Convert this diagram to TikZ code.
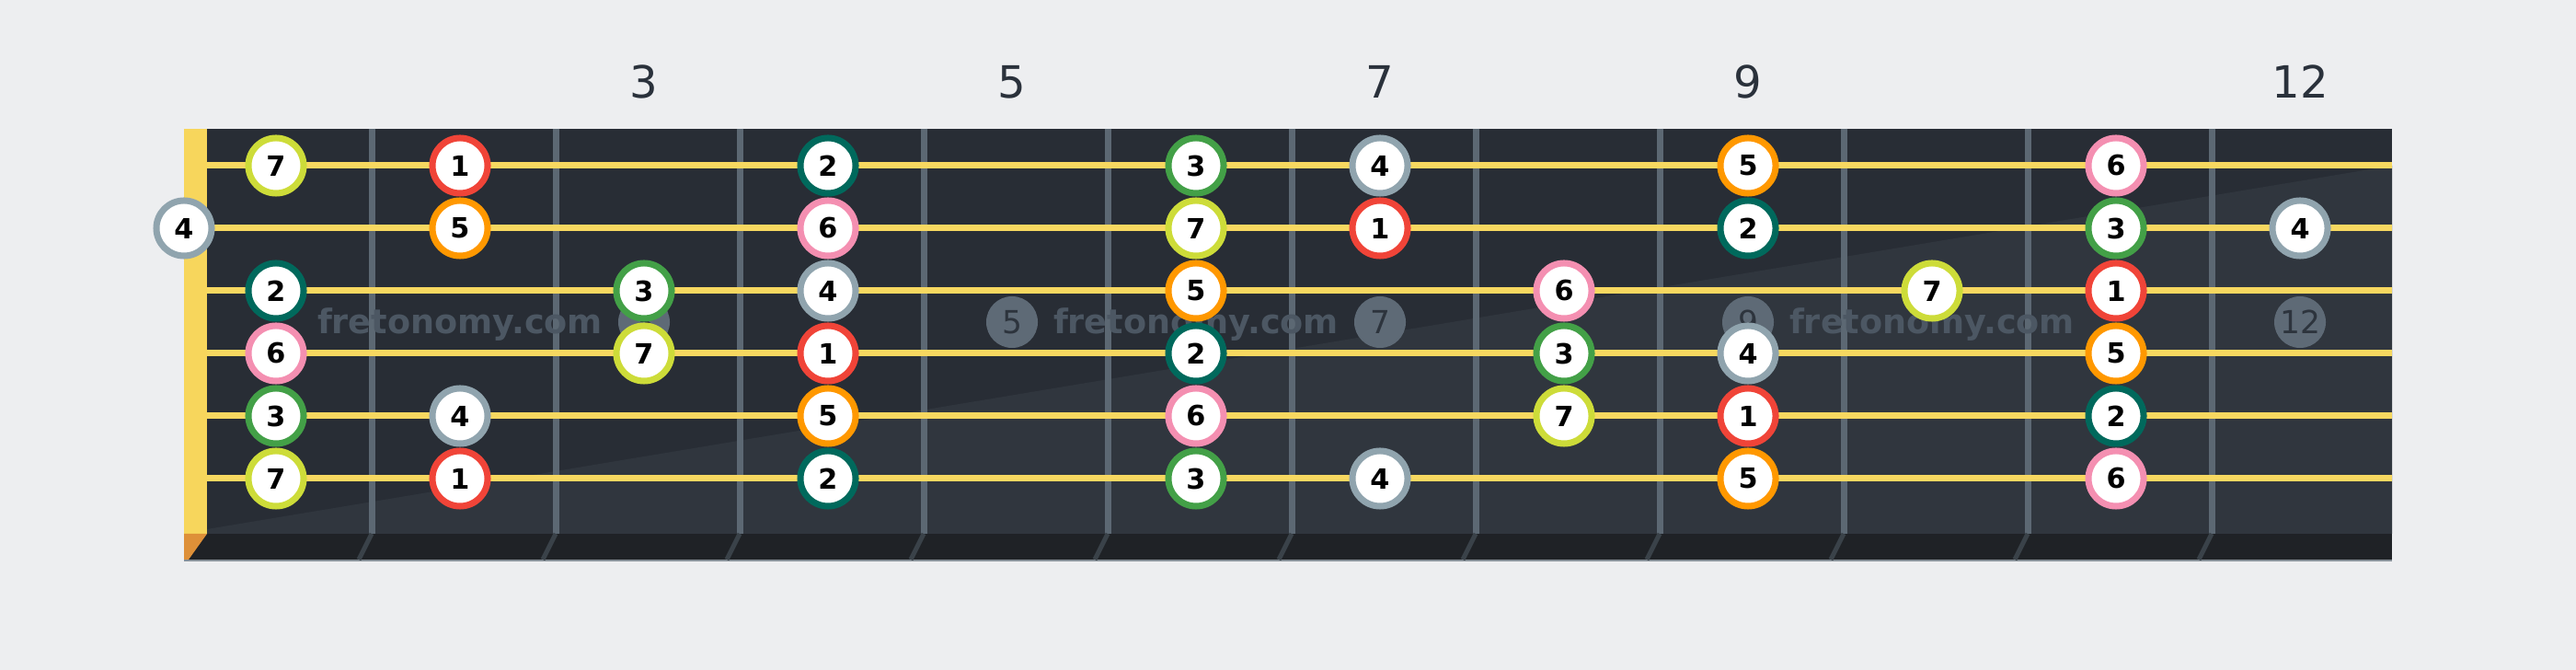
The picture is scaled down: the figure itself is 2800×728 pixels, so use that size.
\documentclass[tikz,border=0pt]{standalone}
\usepackage{fontspec}
\setmainfont{DejaVu Sans}
\newfontfamily\fretnumfont{DejaVu Sans}

\definecolor{bgcol}{HTML}{EDEEF0}
\definecolor{boardtop}{HTML}{282D35}
\definecolor{boardlow}{HTML}{30363E}
\definecolor{boardband}{HTML}{1F2226}
\definecolor{fretcol}{HTML}{5C6873}
\definecolor{stringcol}{HTML}{F7D860}
\definecolor{nutcol}{HTML}{F7D65C}
\definecolor{nutend}{HTML}{DE9038}
\definecolor{markcol}{HTML}{5E6A76}
\definecolor{marktext}{HTML}{2D343D}
\definecolor{topnum}{HTML}{2A313B}
\definecolor{wmcol}{HTML}{4C5763}
\definecolor{deg1}{HTML}{F04438}
\definecolor{deg2}{HTML}{00695C}
\definecolor{deg3}{HTML}{43A047}
\definecolor{deg4}{HTML}{90A4AE}
\definecolor{deg5}{HTML}{FF9800}
\definecolor{deg6}{HTML}{F48FB1}
\definecolor{deg7}{HTML}{CDDC39}

\tikzset{
  note/.style={circle, draw=deg#1, line width=0.07cm, fill=white, minimum size=0.6cm,
    inner sep=0pt, font=\bfseries\fontsize{8.6}{8.6}\selectfont},
  fretwire/.style={draw=fretcol, line width=0.07cm},
  gtstring/.style={draw=stringcol, line width=0.07cm},
  fretmark/.style={circle, fill=markcol, minimum size=0.56cm, inner sep=0pt,
    text=marktext, font=\fretnumfont\fontsize{9.8}{9.8}\selectfont},
  fretlabel/.style={text=topnum, font=\fretnumfont\fontsize{13.7}{13.7}\selectfont},
  watermark/.style={text=wmcol, anchor=base, font=\bfseries\fontsize{10.4}{10.4}\selectfont}
}

\begin{document}
\begin{tikzpicture}[x=0.01cm,y=-0.01cm]
  \fill[bgcol] (0,0) rectangle (2800,728);
  \useasboundingbox (0,0) rectangle (2800,728);

  % fretboard
  \fill[boardtop] (200,140) rectangle (2600,580);
  \fill[boardlow] (225,575) -- (2600,180) -- (2600,580) -- (225,580) -- cycle;
  \fill[boardband] (200,580) rectangle (2600,608);
  \draw[fretcol!70!bgcol, line width=0.02cm] (200,609) -- (2600,609);
  \fill[nutcol] (200,140) rectangle (225,580);
  \fill[nutend] (200,580) -- (225,580) -- (205,608) -- (200,608) -- cycle;

  % frets
  \foreach \f in {1,...,11} {
    \draw[fretwire] (200*\f+204,140) -- (200*\f+204,580);
    \draw[fretcol!45!boardband, line width=0.05cm] (200*\f+204,580) -- (200*\f+190,608);
  }

  % position markers
  \foreach \f in {3,5,7,9,12} {
    \node[fretmark] (mark\f) at (100+200*\f,350) {\f};
    \node[fretlabel] (lab\f) at (100+200*\f,89) {\f};
  }

  % watermark
  \foreach \x in {500,1300,2100}
    \node[watermark] (wm\x) at (\x,363) {fretonomy.com};

  % strings
  \foreach \s in {1,...,6} {
    \coordinate (s\s-a) at (225,112+68*\s);
    \coordinate (s\s-b) at (2600,112+68*\s);
    \draw[gtstring] (s\s-a) -- (s\s-b);
  }

  % notes: string/fret/degree
  \foreach \s/\f/\d in {
    1/1/7, 1/2/1, 1/4/2, 1/6/3, 1/7/4, 1/9/5, 1/11/6,
    2/0/4, 2/2/5, 2/4/6, 2/6/7, 2/7/1, 2/9/2, 2/11/3, 2/12/4,
    3/1/2, 3/3/3, 3/4/4, 3/6/5, 3/8/6, 3/10/7, 3/11/1,
    4/1/6, 4/3/7, 4/4/1, 4/6/2, 4/8/3, 4/9/4, 4/11/5,
    5/1/3, 5/2/4, 5/4/5, 5/6/6, 5/8/7, 5/9/1, 5/11/2,
    6/1/7, 6/2/1, 6/4/2, 6/6/3, 6/7/4, 6/9/5, 6/11/6} {
    \ifnum\f=0
      \node[note=\d] (n\s-\f) at (200,112+68*\s) {\d};
    \else
      \node[note=\d] (n\s-\f) at (100+200*\f,112+68*\s) {\d};
    \fi
  }
\end{tikzpicture}
\end{document}
